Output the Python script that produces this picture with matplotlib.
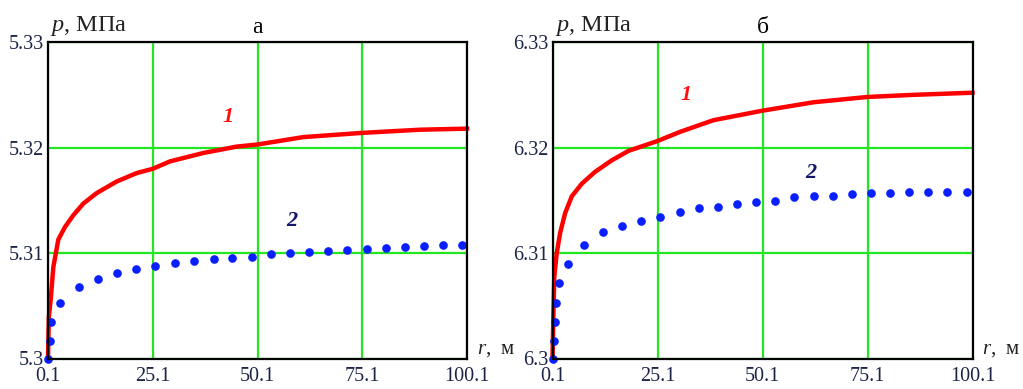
import matplotlib
matplotlib.use('Agg')
import matplotlib.pyplot as plt
import matplotlib.transforms as mtransforms

# ---- data ----
# panel a
r_red_a = [0.1, 0.3, 0.74, 1.37, 2.56, 4.16, 6.14, 8.5, 11.7, 16.5, 21.3, 25.1,
           29.2, 37.2, 45.1, 50.1, 61.0, 75.1, 88.9, 100.1]
p_red_a = [5.3, 5.304, 5.3056, 5.3087, 5.3113, 5.3125, 5.3136, 5.3147, 5.3157, 5.3168,
           5.3176, 5.3180, 5.3187, 5.3195, 5.3201, 5.3203, 5.3210, 5.3214, 5.3217, 5.3218]
r_blue_a = [0.1, 0.5, 0.9, 2.9, 7.5, 12.0, 16.6, 21.1, 25.7, 30.3, 34.9, 39.6, 44.1,
            48.7, 53.3, 57.8, 62.4, 67.0, 71.5, 76.2, 80.7, 85.2, 89.8, 94.4, 98.9]
p_blue_a = [5.3000, 5.3017, 5.3035, 5.3053, 5.3068, 5.3076, 5.3081, 5.3085, 5.3088,
            5.3091, 5.3093, 5.3095, 5.3096, 5.3097, 5.3099, 5.3100, 5.3101, 5.3102,
            5.3103, 5.3104, 5.3105, 5.3106, 5.3107, 5.3108, 5.3108]

# panel b
r_red_b = [0.1, 0.3, 0.53, 1.1, 1.9, 3.1, 4.7, 7.1, 10.2, 14.2, 18.2, 24.9, 30.5,
           38.4, 50.1, 62.3, 75.1, 86.1, 100.1]
p_red_b = [6.3, 6.304, 6.3078, 6.3100, 6.3119, 6.3138, 6.3154, 6.3166, 6.3177, 6.3188,
           6.3197, 6.3206, 6.3215, 6.3226, 6.3235, 6.3243, 6.3248, 6.3250, 6.3252]
r_blue_b = [0.1, 0.5, 0.7, 0.9, 1.7, 3.7, 7.6, 12.1, 16.6, 21.2, 25.8, 30.5, 35.0,
            39.5, 44.0, 48.6, 53.1, 57.7, 62.3, 66.8, 71.4, 76.0, 80.5, 85.0, 89.5,
            94.1, 98.7]
p_blue_b = [6.3000, 6.3017, 6.3035, 6.3053, 6.3072, 6.3090, 6.3108, 6.3120, 6.3126,
            6.3131, 6.3134, 6.3139, 6.3143, 6.3144, 6.3147, 6.3149, 6.3150, 6.3153,
            6.3154, 6.3154, 6.3156, 6.3157, 6.3157, 6.3158, 6.3158, 6.3158, 6.3158]

x_ticks = [0.1, 25.1, 50.1, 75.1, 100.1]
x_labels = ['0.1', '25.1', '50.1', '75.1', '100.1']
y_ticks_a = [5.3, 5.31, 5.32, 5.33]
y_labels_a = ['5.3', '5.31', '5.32', '5.33']
y_ticks_b = [6.3, 6.31, 6.32, 6.33]
y_labels_b = ['6.3', '6.31', '6.32', '6.33']

plt.rcParams['font.family'] = ['Liberation Serif', 'DejaVu Serif']
plt.rcParams['mathtext.fontset'] = 'custom'
plt.rcParams['mathtext.rm'] = 'Liberation Serif'
plt.rcParams['mathtext.it'] = 'Liberation Serif:italic'

fig = plt.figure(figsize=(10.23, 3.89), dpi=100)
ax_a = fig.add_axes([48 / 1023, 1 - 359 / 389, 419 / 1023, 317 / 389])
ax_b = fig.add_axes([552.5 / 1023, 1 - 359 / 389, 420 / 1023, 317 / 389])

panels = [
    (ax_a, r_red_a, p_red_a, r_blue_a, p_blue_a, y_ticks_a, y_labels_a, 'а',
     (43, 5.3229), (58.3, 5.3131)),
    (ax_b, r_red_b, p_red_b, r_blue_b, p_blue_b, y_ticks_b, y_labels_b, 'б',
     (32, 6.3250), (61.5, 6.3176)),
]

for ax, rr, pr, rb, pb, yt, yl, title, pos1, pos2 in panels:
    ax.set_xlim(0.1, 100.1)
    ax.set_ylim(yt[0], yt[-1])
    ax.set_xticks(x_ticks)
    ax.set_xticklabels(x_labels)
    ax.set_yticks(yt)
    ax.set_yticklabels(yl)
    ax.tick_params(length=0, labelsize=14.5, colors='#1c2448')
    ax.tick_params(axis='x', pad=6)
    ax.tick_params(axis='y', pad=3)
    ax.grid(True, color='#22e622', linewidth=1.6)
    ax.set_axisbelow(True)
    for sp in ax.spines.values():
        sp.set_color('black')
        sp.set_linewidth(1.6)
        sp.set_zorder(4)

    ax.plot(rr, pr, color='#ff0000', linewidth=3.2, zorder=3, clip_on=False)
    ax.plot(rb, pb, linestyle='none', marker='o', markersize=5.2,
            color='#0a1fff', zorder=3, clip_on=False)

    ax.text(pos1[0], pos1[1], '1', color='#ff1010', fontsize=16,
            fontstyle='italic', fontweight='bold', ha='center', va='center')
    ax.text(pos2[0], pos2[1], '2', color='#16166e', fontsize=16,
            fontstyle='italic', fontweight='bold', ha='center', va='center')

    ax.annotate('$\\mathit{p}$, МПа', xy=(0.005, 1.0), xycoords='axes fraction',
                xytext=(0, 3), textcoords='offset points',
                ha='left', va='bottom', fontsize=17.5, color='#222222')
    ax.annotate(title, xy=(0.5, 1.0), xycoords='axes fraction',
                xytext=(0, 3), textcoords='offset points',
                ha='center', va='bottom', fontsize=17, color='black')
    ax.annotate('$\\mathit{r}$,  м', xy=(1.0, 0.0), xycoords='axes fraction',
                xytext=(7, 0), textcoords='offset points',
                ha='left', va='bottom', fontsize=15, color='#222222')

# lowest y label: baseline just under the axis, clear of the first x label
shift = mtransforms.ScaledTranslation(0, -6 / 100, fig.dpi_scale_trans)
for ax in (ax_a, ax_b):
    lab = ax.get_yticklabels()[0]
    lab.set_verticalalignment('baseline')
    lab.set_transform(lab.get_transform() + shift)

fig.savefig('out.png', dpi=100)
